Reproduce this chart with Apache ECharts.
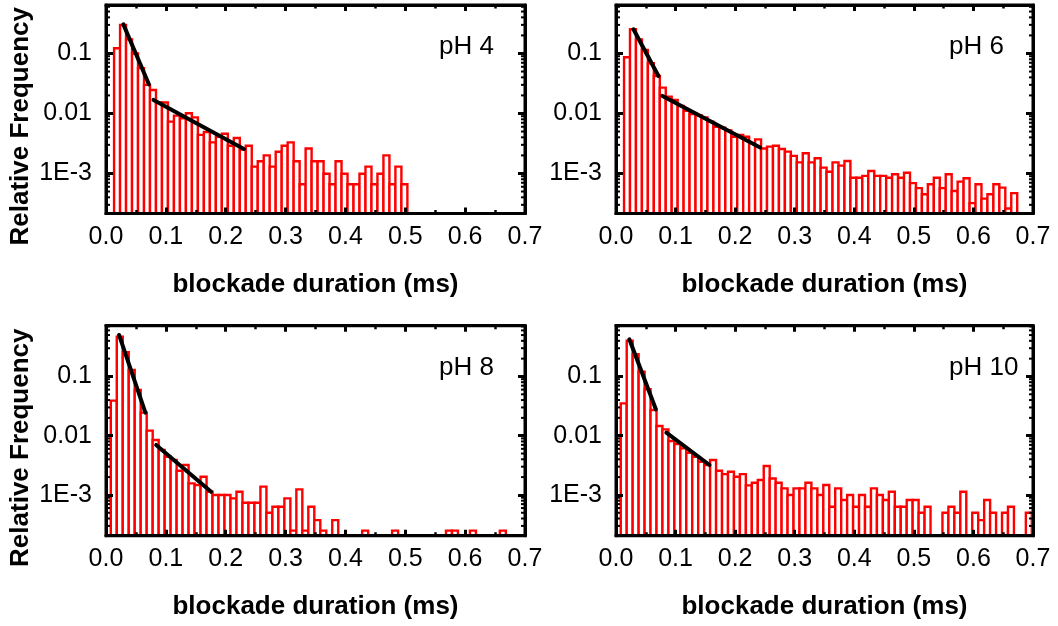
<!DOCTYPE html>
<html><head><meta charset="utf-8">
<script src="https://cdn.jsdelivr.net/npm/echarts@6/dist/echarts.min.js"></script>
<style>html,body{margin:0;padding:0;background:#fff}#c{width:1058px;height:626px}</style>
</head><body><div id="c"></div>
<script>
// ---------------- data ----------------
const binWidth = 0.01;                 // ms
const firstBinCenterTop = 0.0185;      // pH 4 / pH 6 histograms
const firstBinCenterBottom = 0.013;    // pH 8 / pH 10 histograms
const panelLabels = ['pH 4', 'pH 6', 'pH 8', 'pH 10'];
const xAxisName = 'blockade duration (ms)';
const yAxisName = 'Relative Frequency';
const yTickValues = [0.001, 0.01, 0.1];
const yTickLabels = ['1E-3', '0.01', '0.1'];

const freqPH4 = [0.122, 0.299, 0.172, 0.100, 0.057, 0.030, 0.0246, 0.0152, 0.0152, 0.0073,
  0.0092, 0.0083, 0.0101, 0.0086, 0.0044, 0.0049, 0.0033, 0.0041, 0.0046, 0.0029,
  0.0039, 0.0025, 0.0029, 0.0013, 0.0016, 0.0020, 0.0013, 0.0023, 0.0029, 0.0033,
  0.0016, 0.00066, 0.0026, 0.0016, 0.0016, 0.00099, 0.00066, 0.0016, 0.00099, 0.00066,
  0.00066, 0.00099, 0.0013, 0.00066, 0.00099, 0.0020, 0.00066, 0.0013, 0.00066];

const freqPH6 = [0.0863, 0.253, 0.172, 0.114, 0.0686, 0.0422, 0.0270, 0.0191, 0.0168, 0.0133,
  0.0111, 0.0098, 0.0094, 0.0086, 0.0073, 0.0060, 0.0058, 0.0052, 0.0041, 0.0044,
  0.0041, 0.0032, 0.0037, 0.0026, 0.0028, 0.0029, 0.00256, 0.00231, 0.00196, 0.00153,
  0.00217, 0.00153, 0.00179, 0.00125, 0.00107, 0.00153, 0.00135, 0.00161, 0.00085, 0.00085,
  0.00091, 0.0011, 0.00091, 0.00091, 0.00085, 0.00097, 0.00085, 0.00103, 0.00069, 0.00057,
  0.00045, 0.00066, 0.00085, 0.00057, 0.00097, 0.00051, 0.00073, 0.00083, 0.00032, 0.00066,
  0.00038, 0.00045, 0.00066, 0.00058, 0.00026, 0.00047];

const freqPH8 = [0.0391, 0.471, 0.256, 0.129, 0.0591, 0.0245, 0.0122, 0.00846, 0.00573, 0.00442,
  0.00388, 0.00256, 0.0032, 0.00157, 0.00147, 0.00203, 0.00113, 0.0010, 0.0010, 0.0010,
  0.000875, 0.00113, 0.00074, 0.00074, 0.00074, 0.00138, 0.0005, 0.00063, 0.00063, 0.000875,
  0.00025, 0.00124, 0.00025, 0.00063, 0.000375, 0.00025, 0, 0.000375, 0, 0,
  0, 0, 0.00025, 0, 0, 0, 0, 0.00025, 0, 0,
  0, 0, 0, 0, 0, 0, 0.00025, 0.00025, 0, 0,
  0.00025, 0, 0, 0, 0, 0.00025];

const freqPH10 = [0.0352, 0.403, 0.237, 0.121, 0.0607, 0.0272, 0.0146, 0.0128, 0.00813, 0.00724,
  0.00612, 0.00517, 0.00442, 0.00364, 0.0032, 0.00388, 0.00256, 0.00225, 0.00247, 0.00203,
  0.00225, 0.00145, 0.00161, 0.00179, 0.00308, 0.0019, 0.00161, 0.00129, 0.0010, 0.00129,
  0.00129, 0.00161, 0.00129, 0.0010, 0.00147, 0.00063, 0.00129, 0.00082, 0.0010, 0.00063,
  0.0010, 0.00063, 0.00129, 0.0010, 0.00082, 0.00113, 0.00063, 0.00063, 0.00082, 0.00082,
  0.0005, 0.00063, 0, 0, 0.0005, 0.00063, 0.0005, 0.00113, 0, 0.0005,
  0.000375, 0.00082, 0.0005, 0, 0.0005, 0.00063, 0, 0, 0.0005];

// exponential fits: two segments each, [[x0, y0], [x1, y1]]
const fitPH4 = [[[0.029, 0.306], [0.0716, 0.0306]], [[0.0794, 0.0168], [0.2304, 0.00256]]];
const fitPH6 = [[[0.0293, 0.253], [0.0713, 0.0422]], [[0.078, 0.0196], [0.242, 0.0027]]];
const fitPH8 = [[[0.0218, 0.502], [0.0658, 0.0245]], [[0.0838, 0.00697], [0.1756, 0.00113]]];
const fitPH10 = [[[0.0224, 0.425], [0.0669, 0.0279]], [[0.0845, 0.01125], [0.157, 0.0032]]];

// ---------------- chart ----------------
const FONT = '"Liberation Sans", Arial, sans-serif';
const panels = [
  { freq: freqPH4, first: firstBinCenterTop, fits: fitPH4 },
  { freq: freqPH6, first: firstBinCenterTop, fits: fitPH6 },
  { freq: freqPH8, first: firstBinCenterBottom, fits: fitPH8 },
  { freq: freqPH10, first: firstBinCenterBottom, fits: fitPH10 }
];
const grids = [
  { left: 106, top: 5, width: 419, height: 208.5 },
  { left: 616, top: 5, width: 417, height: 208.5 },
  { left: 106, top: 325.7, width: 419, height: 210 },
  { left: 616, top: 325.7, width: 417, height: 210 }
];
const yRanges = [[2.15e-4, 0.643], [2.15e-4, 0.643], [2.05e-4, 0.72], [2.05e-4, 0.72]];
const X_MIN = 0, X_MAX = 0.7;

function yLabel(v) {
  for (let i = 0; i < yTickValues.length; i++) {
    if (Math.abs(Math.log10(v) - Math.log10(yTickValues[i])) < 1e-6) return yTickLabels[i];
  }
  return '';
}

const xAxes = [], yAxes = [], series = [], graphics = [];
panels.forEach((p, i) => {
  const [yMin, yMax] = yRanges[i];
  const common = {
    gridIndex: i, type: 'value', min: X_MIN, max: X_MAX, interval: 0.1, z: 5,
    axisLine: { show: true, onZero: false, lineStyle: { color: '#000', width: 3 } },
    axisTick: { show: true, inside: true, length: 6, lineStyle: { color: '#000', width: 3 } },
    minorTick: { show: true, splitNumber: 2, length: 3.5, lineStyle: { color: '#000', width: 2.5 } },
    splitLine: { show: false }, minorSplitLine: { show: false }
  };
  xAxes.push(Object.assign({}, common, {
    position: 'bottom',
    axisLabel: { show: true, margin: 11, color: '#000', fontSize: 25, fontFamily: FONT,
      formatter: v => v.toFixed(1) },
    name: xAxisName, nameLocation: 'middle', nameGap: 58,
    nameTextStyle: { color: '#000', fontSize: 26, fontWeight: 'bold', fontFamily: FONT }
  }));
  xAxes.push(Object.assign({}, common, { position: 'top', axisLabel: { show: false } }));
  const ycommon = {
    gridIndex: i, type: 'log', logBase: 10, min: yMin, max: yMax, z: 5,
    axisLine: { show: true, onZero: false, lineStyle: { color: '#000', width: 3 } },
    axisTick: { show: true, inside: true, length: 7, lineStyle: { color: '#000', width: 3 } },
    splitLine: { show: false }, minorTick: { show: false }, minorSplitLine: { show: false }
  };
  yAxes.push(Object.assign({}, ycommon, {
    position: 'left',
    axisLabel: { show: true, margin: 14, color: '#000', fontSize: 25, fontFamily: FONT,
      showMinLabel: false, showMaxLabel: false, formatter: yLabel }
  }));
  yAxes.push(Object.assign({}, ycommon, { position: 'right', axisLabel: { show: false } }));

  // histogram bars
  const barData = [];
  p.freq.forEach((v, k) => { if (v > 0) barData.push([p.first + k * binWidth, v]); });
  series.push({
    type: 'custom', xAxisIndex: 2 * i, yAxisIndex: 2 * i, z: 2, clip: true, silent: true,
    data: barData,
    renderItem: (params, api) => {
      const x = api.value(0), v = api.value(1);
      const tl = api.coord([x - binWidth / 2, v]);
      const br = api.coord([x + binWidth / 2, yMin]);
      return { type: 'rect',
        shape: { x: tl[0], y: tl[1], width: br[0] - tl[0], height: br[1] - tl[1] },
        style: { fill: '#fff', stroke: '#ff0000', lineWidth: 2.4 } };
    }
  });

  // log minor ticks (2..9 x decade) on left and right frame
  const minorVals = [];
  for (let e = -4; e <= 0; e++) for (let m = 2; m <= 9; m++) {
    const v = m * Math.pow(10, e);
    if (v > yMin && v < yMax) minorVals.push([v]);
  }
  series.push({
    type: 'custom', xAxisIndex: 2 * i, yAxisIndex: 2 * i, z: 6, silent: true,
    data: minorVals,
    renderItem: (params, api) => {
      const v = api.value(0);
      const L = api.coord([X_MIN, v]), R = api.coord([X_MAX, v]);
      return { type: 'group', children: [
        { type: 'line', shape: { x1: L[0], y1: L[1], x2: L[0] + 4, y2: L[1] }, style: { stroke: '#000', lineWidth: 2 } },
        { type: 'line', shape: { x1: R[0], y1: R[1], x2: R[0] - 4, y2: R[1] }, style: { stroke: '#000', lineWidth: 2 } }
      ] };
    }
  });

  // fit lines
  p.fits.forEach(seg => series.push({
    type: 'line', xAxisIndex: 2 * i, yAxisIndex: 2 * i, data: seg, symbol: 'none', z: 4,
    silent: true, lineStyle: { color: '#000', width: 4, cap: 'round' }
  }));

  const g = grids[i];
  graphics.push({ type: 'text', x: g.left + 333, y: g.top + 42,
    style: { text: panelLabels[i], font: '26px ' + FONT, fill: '#000',
      align: 'left', verticalAlign: 'middle', textAlign: 'left', textVerticalAlign: 'middle' } });
  if (i % 2 === 0) {
    graphics.push({ type: 'text', x: 21, y: g.top + g.height / 2 + 17, rotation: Math.PI / 2,
      style: { text: yAxisName, font: 'bold 26px ' + FONT, fill: '#000',
        align: 'center', verticalAlign: 'middle', textAlign: 'center', textVerticalAlign: 'middle' } });
  }
});

const chart = echarts.init(document.getElementById('c'));
chart.setOption({
  animation: false,
  backgroundColor: '#fff',
  grid: grids.map(g => Object.assign({ show: true, borderColor: '#000', borderWidth: 3,
    backgroundColor: 'transparent', containLabel: false }, g)),
  xAxis: xAxes, yAxis: yAxes, series: series, graphic: graphics
});
</script></body></html>
